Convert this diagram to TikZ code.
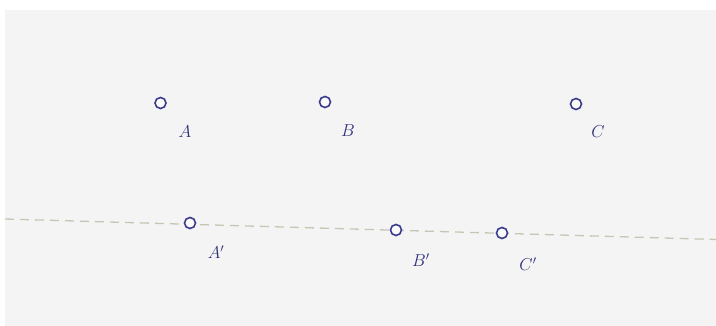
\documentclass[tikz,border=0pt]{standalone}
\begin{document}
\begin{tikzpicture}[x=1pt,y=1pt,
  pt/.style={circle,draw=ptblue,fill=white!60!bg,line width=1.6pt,minimum size=11pt,inner sep=0pt},
  lbl/.style={text=lblblue,font=\fontsize{17}{20}\selectfont\itshape,inner sep=0pt},
  dline/.style={draw=linegrey,line width=1.3pt,dash pattern=on 9pt off 6pt}]
\definecolor{bg}{HTML}{F4F4F4}
\definecolor{ptblue}{HTML}{3A3A8E}
\definecolor{lblblue}{HTML}{30307A}
\definecolor{linegrey}{HTML}{C6C6B4}
\useasboundingbox (0,0) rectangle (716,326);
\fill[bg] (5,0) rectangle (716,316);
\coordinate (L1) at (5,107);
\coordinate (L2) at (716,86.5);
\draw[dline] (L1) -- (L2);
\node[pt] (A) at (160.5,223) {};
\node[pt] (B) at (325,224) {};
\node[pt] (C) at (576,222) {};
\node[pt] (Ap) at (190,103) {};
\node[pt] (Bp) at (396,96) {};
\node[pt] (Cp) at (502,93) {};
\node[lbl] (lA) at (185,194) {$A$};
\node[lbl] (lB) at (348,195) {$B$};
\node[lbl] (lC) at (598,194) {$C$};
\node[lbl] (lAp) at (216,74) {$A'$};
\node[lbl] (lBp) at (421,66) {$B'$};
\node[lbl] (lCp) at (528,62) {$C'$};
\end{tikzpicture}
\end{document}
